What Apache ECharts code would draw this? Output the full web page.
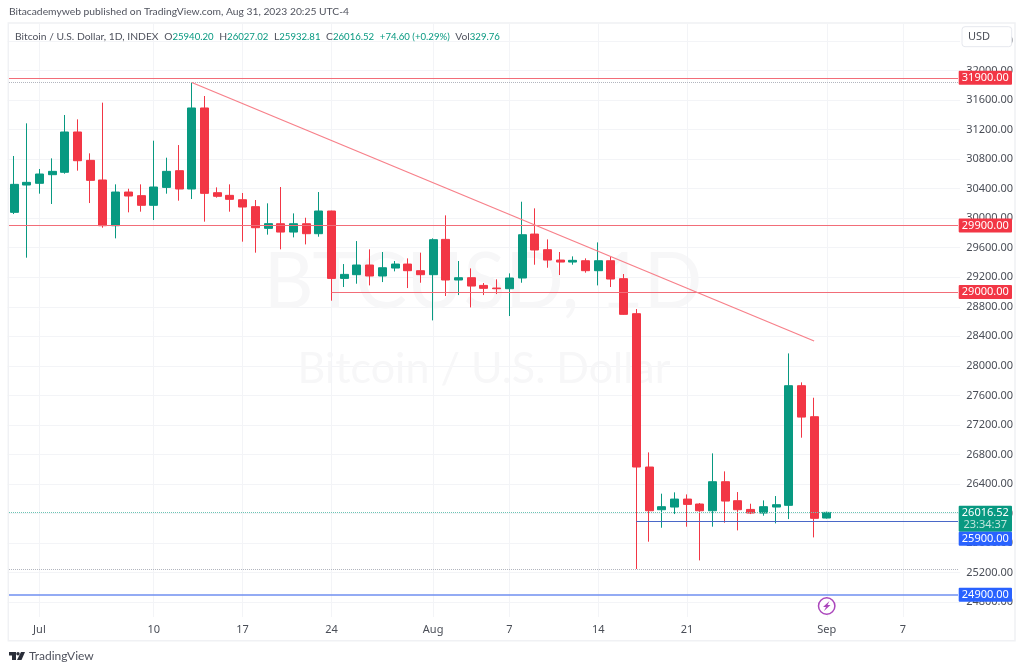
<!DOCTYPE html>
<html>
<head>
<meta charset="utf-8">
<title>BTCUSD 1D</title>
<script src="https://cdn.jsdelivr.net/npm/echarts@6/dist/echarts.min.js"></script>
<style>
  html, body { margin: 0; padding: 0; background: #fff; }
  #chart { width: 1024px; height: 671px; }
</style>
</head>
<body>
<div id="chart"></div>
<script>
// ========== data ==========
const dates = ['Jun 29','Jun 30','Jul','Jul 2','Jul 3','Jul 4','Jul 5','Jul 6','Jul 7','Jul 8','Jul 9','Jul 10','Jul 11','Jul 12','Jul 13','Jul 14','Jul 15','Jul 16','Jul 17','Jul 18','Jul 19','Jul 20','Jul 21','Jul 22','Jul 23','Jul 24','Jul 25','Jul 26','Jul 27','Jul 28','Jul 29','Jul 30','Jul 31','Aug','Aug 2','Aug 3','Aug 4','Aug 5','Aug 6','Aug 7','Aug 8','Aug 9','Aug 10','Aug 11','Aug 12','Aug 13','Aug 14','Aug 15','Aug 16','Aug 17','Aug 18','Aug 19','Aug 20','Aug 21','Aug 22','Aug 23','Aug 24','Aug 25','Aug 26','Aug 27','Aug 28','Aug 29','Aug 30','Aug 31','Sep','Sep 2','Sep 3','Sep 4','Sep 5','Sep 6','Sep 7','Sep 8','Sep 9','Sep 10','Sep 11'];

// open, close, low, high
const ohlc = [
  [30079,30458,30056,30842],[30449,30485,29465,31284],[30472,30598,30332,30666],[30589,30634,30192,30810],
  [30621,31167,30602,31397],[31167,30778,30643,31338],[30783,30512,30205,30878],[30517,29898,29871,31564],
  [29898,30354,29727,30458],[30354,30300,30079,30399],[30305,30174,30088,30458],[30174,30422,29975,31049],
  [30417,30634,30332,30819],[30643,30395,30237,30990],[30395,31492,30259,31834],[31492,30336,29953,31654],
  [30345,30296,30278,30417],[30309,30255,30088,30458],[30250,30151,29682,30341],[30156,29871,29533,30246],
  [29862,29926,29777,30201],[29925,29812,29578,30422],[29812,29925,29740,30065],[29925,29790,29645,30006],
  [29790,30097,29749,30354],[30097,29185,28883,30101],[29185,29239,29068,29379],[29235,29366,29113,29690],
  [29366,29217,29090,29578],[29217,29329,29135,29542],[29325,29379,29280,29420],[29379,29289,29054,29456],
  [29289,29235,29126,29533],[29235,29709,28616,29727],[29713,29163,28946,30038],[29163,29194,28959,29420],
  [29194,29081,28792,29320],[29090,29050,28959,29122],[29054,29045,28973,29172],[29045,29190,28675,29253],
  [29190,29776,29126,30223],[29785,29569,29370,30133],[29573,29433,29329,29713],[29433,29406,29230,29542],
  [29406,29429,29370,29483],[29424,29289,29262,29456],[29289,29424,29090,29672],[29424,29176,29068,29478],
  [29181,28698,28693,29244],[28707,26631,25250,28770],[26631,26039,25620,26829],[26053,26094,25809,26270],
  [26089,26197,25994,26288],[26197,26125,25823,26260],[26130,26039,25367,26143],[26039,26432,25823,26816],
  [26432,26170,25877,26572],[26175,26053,25773,26292],[26057,26008,25994,26134],[26008,26094,25972,26179],
  [26089,26121,25868,26238],[26112,27732,25926,28169],[27732,27307,27028,27777],[27312,25936,25678,27569],
  [25940.20,26016.52,25932.81,26027.02]
];

const tickDates = ['Jul','Jul 10','Jul 17','Jul 24','Aug','Aug 7','Aug 14','Aug 21','Sep','Sep 7'];
const tickLabels = ['Jul','10','17','24','Aug','7','14','21','Sep','7'];

const trendDates = ['Jul 13','Aug 31'];
const trendValues = [31837,28337];

const redLevels = [31900,29900];
const redLateLevel = 29000, redLateStart = 'Jul 24';
const navyLevel = 25900, navyStart = 'Aug 17';
const blueLevel = 24900;
const dottedLevels = [31837,25246];
const lastPrice = 26016.52;

// axis tags
const tagValues = [31900,29900,29000,26016.52,25900,24900];
const tagTexts = ['31900.00','29900.00','29000.00','26016.52','25900.00','24900.00'];
const tagColors = ['#f23645','#f23645','#f23645','#089981','#2962ff','#2962ff'];
const countdown = '23:34:37';

const publishedText = 'Bitacademyweb published on TradingView.com, Aug 31, 2023 20:25 UTC-4';
const legendName = 'Bitcoin / U.S. Dollar, 1D, INDEX';
const legendParts = [['O','25940.20'],['H','26027.02'],['L','25932.81'],['C','26016.52']];
const legendChange = '+74.60 (+0.29%)';
const legendVol = '329.76';

// ========== colours ==========
const GREEN = '#089981', RED = '#f23645', GRID = '#f3f4f7', TEXT = '#4a4e57';
const FONT = '"Noto Sans", sans-serif';
const HEAD_FONT = 'Lato, sans-serif';

// ========== chart ==========
const chart = echarts.init(document.getElementById('chart'), null, { renderer: 'canvas' });

function levelLine(from, value, color, type, width) {
  return [
    { coord: [from || dates[0], value], x: from ? undefined : 9, lineStyle: { color, type, width } },
    { coord: [dates[dates.length - 1], value], x: 958 }
  ];
}

const legendText = '{n|' + legendName + '}' +
  legendParts.map(p => '{s|  }{n|' + p[0] + '}{g|' + p[1] + '}').join('') +
  '{s|  }{g|' + legendChange + '}{s|  }{n|Vol}{g|' + legendVol + '}';

chart.setOption({
  animation: false,
  backgroundColor: '#fff',
  title: [
    { text: publishedText, left: 4, top: 2, textStyle: { fontFamily: HEAD_FONT, fontSize: 10.3, fontWeight: 'normal', color: '#50535e' } },
    { text: legendText, left: 10, top: 26, textStyle: { fontWeight: 'normal', rich: {
      n: { fontFamily: HEAD_FONT, fontSize: 10.3, fontWeight: 'normal', color: '#50535e' },
      g: { fontFamily: HEAD_FONT, fontSize: 9.6, fontWeight: 'normal', color: GREEN },
      s: { fontFamily: HEAD_FONT, fontSize: 11, fontWeight: 'normal' }
    } } }
  ],
  grid: { left: 7.65, width: 952.5, top: 24, height: 607.8, containLabel: false },
  xAxis: {
    type: 'category',
    data: dates,
    boundaryGap: true,
    axisLine: { show: false },
    axisTick: { show: false },
    splitLine: { show: false },
    axisLabel: {
      inside: true,
      margin: -4,
      interval: (i, name) => tickDates.includes(name),
      formatter: (name) => tickLabels[tickDates.indexOf(name)],
      color: TEXT, fontFamily: FONT, fontSize: 11
    }
  },
  yAxis: {
    type: 'value',
    position: 'right',
    min: 24400,
    max: 32629,
    interval: 400,
    scale: true,
    axisLine: { show: false },
    axisTick: { show: false },
    splitLine: { show: true, showMinLine: false, showMaxLine: false, lineStyle: { color: GRID } },
    axisLabel: {
      showMinLabel: false,
      showMaxLabel: false,
      margin: 6,
      formatter: (v) => v.toFixed(2),
      color: TEXT, fontFamily: FONT, fontSize: 11
    }
  },
  series: [
    {
      // vertical grid lines stop above the date strip, so they are drawn here
      type: 'line', data: [], silent: true, z: 1,
      markLine: {
        z: 1, silent: true, symbol: ['none', 'none'], animation: false, label: { show: false },
        lineStyle: { color: GRID, type: 'solid', width: 1 },
        data: tickDates.map(d => [{ coord: [d, 32629] }, { coord: [d, 24600] }])
      }
    },
    {
      type: 'candlestick',
      data: ohlc,
      barWidth: 8.5,
      z: 3,
      itemStyle: { color: GREEN, color0: RED, borderColor: GREEN, borderColor0: RED, borderWidth: 1 }
    },
    {
      type: 'line',
      data: trendDates.map((d, i) => [d, trendValues[i]]),
      symbol: 'none', silent: true, z: 4,
      lineStyle: { color: '#f7808a', width: 1.3 }
    },
    {
      type: 'line', data: [], silent: true, z: 4,
      markLine: {
        z: 4, silent: true, symbol: ['none', 'none'], animation: false, label: { show: false },
        data: [
          ...redLevels.map(v => levelLine(null, v, '#f26d78', 'solid', 1.2)),
          levelLine(redLateStart, redLateLevel, '#f26d78', 'solid', 1.2),
          levelLine(navyStart, navyLevel, '#4a68c8', 'solid', 1),
          levelLine(null, blueLevel, '#6f8ff0', 'solid', 1.5),
          ...dottedLevels.map(v => levelLine(null, v, '#b2b5be', 'dotted', 1)),
          levelLine(null, lastPrice, '#6cc4b3', 'dotted', 1)
        ]
      }
    },
    {
      // price tags on the right scale
      type: 'custom',
      silent: true,
      z: 10,
      data: tagValues.map(v => [dates.length - 1, v]),
      encode: { x: 0, y: 1 },
      renderItem: (params, api) => {
        const i = params.dataIndex;
        let y = api.coord([api.value(0), api.value(1)])[1];
        const isLast = tagTexts[i] === '26016.52';
        const isNavy = tagTexts[i] === '25900.00';
        let top = y - 7, h = 14;
        if (isLast) { top = 505.7; h = 26; }
        if (isNavy) { top = 531.7; }
        const children = [
          { type: 'rect', shape: { x: 958.7, y: top, width: 53.3, height: h, r: 1 }, style: { fill: tagColors[i] } },
          { type: 'text', style: { text: tagTexts[i], x: 985.3, y: top + 7, align: 'center', verticalAlign: 'middle', fill: '#fff', font: '11px ' + FONT } }
        ];
        if (isLast) {
          children.push({ type: 'text', style: { text: countdown, x: 985.3, y: top + 19.5, align: 'center', verticalAlign: 'middle', fill: '#bfe5dc', font: '11px ' + FONT } });
        }
        return { type: 'group', children };
      }
    }
  ],
  graphic: {
    elements: [
      // watermark
      { type: 'text', z: 1, silent: true, style: { text: 'BTCUSD, 1D', x: 483, y: 283, align: 'center', verticalAlign: 'middle', fill: '#f7f7f8', font: '77px ' + HEAD_FONT } },
      { type: 'text', z: 1, silent: true, style: { text: 'Bitcoin / U.S. Dollar', x: 484, y: 369, align: 'center', verticalAlign: 'middle', fill: '#f7f7f8', font: '43px ' + HEAD_FONT } },
      // chart frame
      { type: 'rect', z: 1, silent: true, shape: { x: 8.3, y: 23, width: 1006.7, height: 617.7 }, style: { fill: 'none', stroke: '#f0f1f4', lineWidth: 1.5 } },
      // currency button
      { type: 'rect', z: 1, silent: true, shape: { x: 962, y: 26.7, width: 49.7, height: 20, r: 3 }, style: { fill: '#fff', stroke: '#e6e8ee', lineWidth: 1 } },
      { type: 'text', z: 1, silent: true, style: { text: 'USD', x: 979, y: 37, align: 'center', verticalAlign: 'middle', fill: TEXT, font: '11px ' + FONT } },
      // dividend/lightning marker
      { type: 'circle', z: 5, silent: true, shape: { cx: 826.7, cy: 606, r: 8.2 }, style: { fill: '#fff', stroke: '#ab47bc', lineWidth: 1.5 } },
      { type: 'polygon', z: 5, silent: true, shape: { points: [[829.5, 601], [823, 607], [826, 607], [824, 611], [830.5, 605], [827.5, 605]] }, style: { fill: '#ab47bc' } },
      // TradingView logo
      { type: 'polygon', z: 1, silent: true, shape: { points: [[9, 652], [16, 652], [16, 660], [12, 660], [12, 655.5], [9, 655.5]] }, style: { fill: '#2a2e39' } },
      { type: 'circle', z: 1, silent: true, shape: { cx: 18, cy: 653.7, r: 1.7 }, style: { fill: '#2a2e39' } },
      { type: 'polygon', z: 1, silent: true, shape: { points: [[21, 652], [25, 652], [21.5, 660], [17, 660]] }, style: { fill: '#2a2e39' } },
      { type: 'text', z: 1, silent: true, style: { text: 'TradingView', x: 29, y: 656, verticalAlign: 'middle', fill: '#50535e', font: '12px ' + HEAD_FONT } }
    ]
  }
});
</script>
</body>
</html>
